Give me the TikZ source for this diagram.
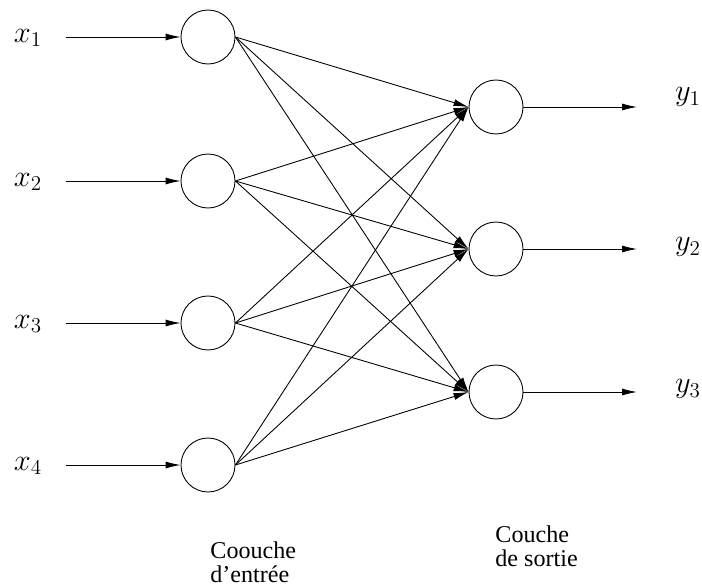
\documentclass[tikz,border=0pt]{standalone}
\usepackage{fontspec}
\setmainfont{Liberation Serif}
\usepackage{tikz}
\usetikzlibrary{arrows.meta}

\begin{document}
\begin{tikzpicture}[>={Latex[length=3mm,width=1.4mm]}, line width=0.5pt]
			\tikzstyle{neuron}=[circle,draw=black,minimum size=1.08cm,inner sep=0pt]
			\tikzstyle{var}=[inner sep=0pt, font=\LARGE]
			\tikzstyle{caption}=[inner sep=0pt, align=left, anchor=north west, font=\fontsize{13.7}{13.8}\selectfont]
			\useasboundingbox (0,0) rectangle (14.04,-11.76);
			
			% Draw neurons
			\node[neuron] (in1) at (4.16,-0.74) {};
			\node[neuron] (in2) at (4.16,-3.62) {};
			\node[neuron] (in3) at (4.16,-6.46) {};
			\node[neuron] (in4) at (4.16,-9.30) {};
			\node[neuron] (out1) at (9.92,-2.14) {};
			\node[neuron] (out2) at (9.92,-4.98) {};
			\node[neuron] (out3) at (9.92,-7.84) {};
			
			% Inputs and outputs
			\node[var] (x1) at (0.56,-0.76) {$x_1$};
			\node[var] (x2) at (0.56,-3.64) {$x_2$};
			\node[var] (x3) at (0.56,-6.48) {$x_3$};
			\node[var] (x4) at (0.56,-9.32) {$x_4$};
			\coordinate (s1) at (1.32,-0.74);
			\coordinate (s2) at (1.32,-3.62);
			\coordinate (s3) at (1.32,-6.46);
			\coordinate (s4) at (1.32,-9.30);
			\node[var] (y1) at (13.76,-1.94) {$y_1$};
			\node[var] (y2) at (13.76,-4.94) {$y_2$};
			\node[var] (y3) at (13.76,-7.78) {$y_3$};
			\coordinate (e1) at (12.74,-2.14);
			\coordinate (e2) at (12.74,-4.98);
			\coordinate (e3) at (12.74,-7.84);
			
			% Draw arrows
			\path[->] (s1) edge (in1);
			\path[->] (s2) edge (in2);
			\path[->] (s3) edge (in3);
			\path[->] (s4) edge (in4);
			\path[->] (in1.east) edge (out1.west);
			\path[->] (in1.east) edge (out2.west);
			\path[->] (in1.east) edge (out3.west);
			\path[->] (in2.east) edge (out1.west);
			\path[->] (in2.east) edge (out2.west);
			\path[->] (in2.east) edge (out3.west);
			\path[->] (in3.east) edge (out1.west);
			\path[->] (in3.east) edge (out2.west);
			\path[->] (in3.east) edge (out3.west);
			\path[->] (in4.east) edge (out1.west);
			\path[->] (in4.east) edge (out2.west);
			\path[->] (in4.east) edge (out3.west);
			\path[->] (out1) edge (e1);
			\path[->] (out2) edge (e2);
			\path[->] (out3) edge (e3);
			
			\node[caption] (c1) at (4.20,-10.82) {Coouche\\d'entrée};
			\node[caption] (c2) at (9.90,-10.50) {Couche\\de sortie};
			
		\end{tikzpicture}
\end{document}
